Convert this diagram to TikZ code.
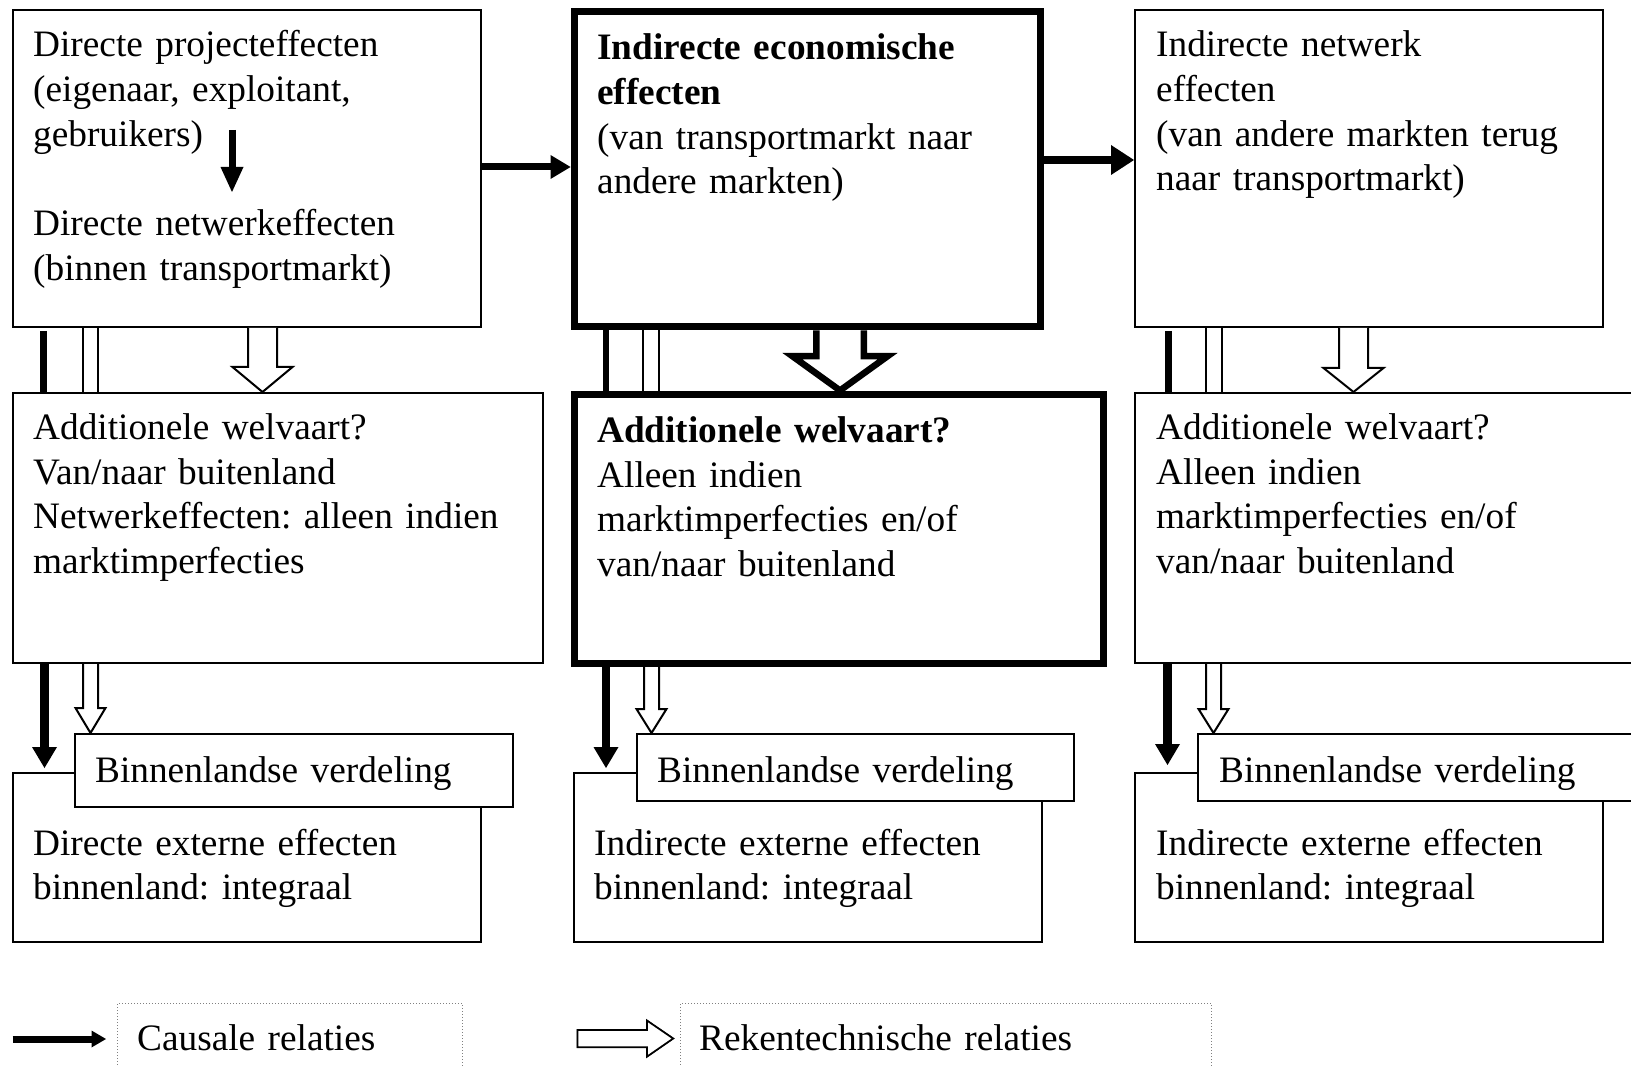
\documentclass[tikz,border=0pt]{standalone}
\usepackage{fontspec}
\setmainfont{Liberation Serif}
\usetikzlibrary{arrows.meta,calc}
\frenchspacing

% body text: size and leading
\newcommand\bodyfont{\fontsize{37.3pt}{44.7pt}\selectfont}

% hollow (calculation) arrow pointing down:
% #1 style, #2 start point, #3 tip point, #4 shaft half width, #5 head half width, #6 head length
\newcommand\hollowdown[6]{%
  \draw[#1] let \p1=#2, \p2=#3 in
    (\x1-#4,\y1) -- (\x1-#4,\y2+#6) -- (\x1-#5,\y2+#6) -- (\x1,\y2)
    -- (\x1+#5,\y2+#6) -- (\x1+#4,\y2+#6) -- (\x1+#4,\y1);}

\begin{document}
\begin{tikzpicture}[x=1pt,y=-1pt,
  box/.style={draw, line width=2pt, inner sep=0pt, anchor=north west},
  heavybox/.style={box, line width=7pt},
  tagbox/.style={box, fill=white},
  keybox/.style={draw=gray, dotted, line width=1pt, inner sep=0pt, anchor=north west},
  txt/.style={inner sep=0pt, anchor=base west, text width=560pt, font=\bodyfont},
  causalline/.style={line width=7pt},
  causalarrow/.style={line width=8.5pt, -{Triangle[length=21pt,width=25pt,line width=0pt]}},
  calcline/.style={line width=2pt},
  hollow/.style={line width=2pt, fill=white, line join=miter},
  hollowheavy/.style={line width=6.5pt, fill=white, line join=miter},
]
\useasboundingbox (0,0) rectangle (1631,1067);
\clip (0,0) rectangle (1631,1067);

% ---------- top row ----------
\node[box, minimum width=468pt, minimum height=317pt] (A) at (11.7,9) {};
\node[heavybox, minimum width=466pt, minimum height=315pt] (B) at (570.5,8.5) {};
\node[box, minimum width=468pt, minimum height=317pt] (C) at (1134,9) {};

% ---------- middle row ----------
\node[box, minimum width=530.3pt, minimum height=270pt] (D) at (11.7,392) {};
\node[heavybox, minimum width=528.9pt, minimum height=269.5pt] (E) at (571.1,390.5) {};
\node[box, minimum width=540pt, minimum height=270pt] (F) at (1134,392) {};

% ---------- bottom row ----------
\node[box, minimum width=468pt, minimum height=169pt] (G) at (11.5,772) {};
\node[box, minimum width=468pt, minimum height=169pt] (H) at (573,772) {};
\node[box, minimum width=468pt, minimum height=169pt] (I) at (1134,772) {};

\node[tagbox, minimum width=437.5pt, minimum height=73pt] (BG) at (74,733) {};
\node[tagbox, minimum width=437pt, minimum height=67pt] (BH) at (636,733) {};
\node[tagbox, minimum width=462pt, minimum height=67pt] (BI) at (1197,733) {};

% ---------- legend ----------
\node[keybox, minimum width=344.5pt, minimum height=90pt] (K1) at (117,1002.5) {};
\node[keybox, minimum width=530.5pt, minimum height=90pt] (K2) at (680,1002.5) {};

% ---------- texts ----------
\node[txt] (At) at (33,56.7) {Directe projecteffecten\\(eigenaar, exploitant,\\gebruikers)\\[44.7pt]Directe netwerkeffecten\\(binnen transportmarkt)};
\node[txt] (Bt) at (597,59.9) {\textbf{Indirecte economische}\\\textbf{effecten}\\(van transportmarkt naar\\andere markten)};
\node[txt] (Ct) at (1156,56.7) {Indirecte netwerk\\effecten\\(van andere markten terug\\naar transportmarkt)};

\node[txt] (Dt) at (33,439.5) {Additionele welvaart?\\Van/naar buitenland\\Netwerkeffecten: alleen indien\\marktimperfecties};
\node[txt] (Et) at (597,442.5) {\textbf{Additionele welvaart?}\\Alleen indien\\marktimperfecties en/of\\van/naar buitenland};
\node[txt] (Ft) at (1156,439.5) {Additionele welvaart?\\Alleen indien\\marktimperfecties en/of\\van/naar buitenland};

\node[txt] (BGt) at (95,782) {Binnenlandse verdeling};
\node[txt] (BHt) at (657,782) {Binnenlandse verdeling};
\node[txt] (BIt) at (1219,782) {Binnenlandse verdeling};

\node[txt] (Gt) at (33,855) {Directe externe effecten\\binnenland: integraal};
\node[txt] (Ht) at (594,855) {Indirecte externe effecten\\binnenland: integraal};
\node[txt] (It) at (1156,855) {Indirecte externe effecten\\binnenland: integraal};

\node[txt] (K1t) at (137,1050) {Causale relaties};
\node[txt] (K2t) at (699,1050) {Rekentechnische relaties};

% ---------- reference columns and rows ----------
\coordinate (cA) at (43.5,0);   \coordinate (cB) at (606,0);    \coordinate (cC) at (1168.5,0);
\coordinate (dA1) at (83,0);    \coordinate (dA2) at (98,0);
\coordinate (dB1) at (643,0);   \coordinate (dB2) at (659,0);
\coordinate (dC1) at (1206,0);  \coordinate (dC2) at (1222,0);
\coordinate (hA) at (262.5,0);  \coordinate (hB) at (840,0);    \coordinate (hC) at (1353.5,0);
\coordinate (mA) at (44.5,0);   \coordinate (mB) at (606,0);    \coordinate (mC) at (1167.5,0);
\coordinate (nA) at (90.5,0);   \coordinate (nB) at (651.5,0);  \coordinate (nC) at (1213.5,0);
\coordinate (rAB) at (0,167);   \coordinate (rBC) at (0,160);

% ---------- horizontal causal arrows ----------
\draw[line width=7pt, -{Triangle[length=20pt,width=24pt,line width=0pt]}] (A.east |- rAB) -- (B.west |- rAB);
\draw[line width=8pt, -{Triangle[length=23pt,width=30pt,line width=0pt]}] (B.east |- rBC) -- (C.west |- rBC);

% small arrow inside the first box
\coordinate (sa1) at (232,130);
\coordinate (sa2) at (232,192);
\draw[line width=7pt, -{Triangle[length=25pt,width=23pt,line width=0pt]}] (sa1) -- (sa2);

% ---------- top row to middle row ----------
\draw[causalline, shorten <=3pt] (cA |- A.south) -- (cA |- D.north);
\draw[line width=6.5pt] (cB |- B.south) -- (cB |- E.north);
\draw[causalline, shorten <=3pt] (cC |- C.south) -- (cC |- F.north);

\draw[calcline] (dA1 |- A.south) -- (dA1 |- D.north);
\draw[calcline] (dA2 |- A.south) -- (dA2 |- D.north);
\draw[calcline] (dB1 |- B.south) -- (dB1 |- E.north);
\draw[calcline] (dB2 |- B.south) -- (dB2 |- E.north);
\draw[calcline] (dC1 |- C.south) -- (dC1 |- F.north);
\draw[calcline] (dC2 |- C.south) -- (dC2 |- F.north);

\hollowdown{hollow}{(hA |- A.south)}{(hA |- D.north)}{14.5pt}{30pt}{25pt}
\hollowdown{hollowheavy}{(hB |- B.south)}{(hB |- E.north)}{23.75pt}{47.5pt}{34.25pt}
\hollowdown{hollow}{(hC |- C.south)}{(hC |- F.north)}{14.5pt}{30pt}{24pt}

% ---------- middle row to bottom row ----------
\draw[causalarrow, shorten >=4pt] (mA |- D.south) -- (mA |- G.north);
\draw[causalarrow, shorten >=4pt] (mB |- E.south) -- (mB |- H.north);
\draw[causalarrow, shorten >=7pt] (mC |- F.south) -- (mC |- I.north);

\hollowdown{hollow}{(nA |- D.south)}{(nA |- BG.north)}{7.5pt}{15pt}{25pt}
\hollowdown{hollow}{(nB |- E.south)}{(nB |- BH.north)}{7.5pt}{15pt}{24pt}
\hollowdown{hollow}{(nC |- F.south)}{(nC |- BI.north)}{7.5pt}{15pt}{24pt}

% ---------- legend symbols ----------
\coordinate (lc1) at (12.5,1039);
\coordinate (lc2) at (106,1039);
\draw[line width=7pt, -{Triangle[length=14.5pt,width=17pt,line width=0pt]}] (lc1) -- (lc2);

\coordinate (lh) at (577.5,1038.5);
\draw[line width=2pt, line join=miter, fill=black, shift={(-2,2)}]
  (lh) ++(0,-8.3) -- ++(69.5,0) -- ++(0,-9.5) -- ++(26,17.8) -- ++(-26,18) -- ++(0,-9.5) -- ++(-69.5,0) -- cycle;
\draw[line width=1.5pt, line join=miter, fill=white]
  (lh) ++(0,-8.3) -- ++(69.5,0) -- ++(0,-9.5) -- ++(26,17.8) -- ++(-26,18) -- ++(0,-9.5) -- ++(-69.5,0) -- cycle;

\end{tikzpicture}
\end{document}
